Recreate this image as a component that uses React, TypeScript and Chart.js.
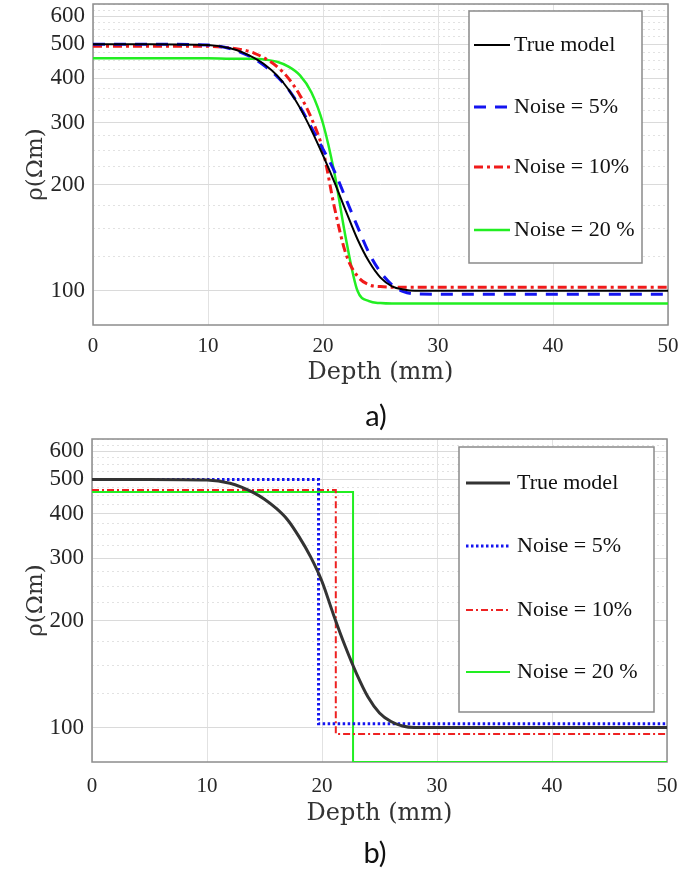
import React, { useEffect, useRef } from 'react';
import { Chart, registerables } from 'chart.js';

Chart.register(...registerables);

// ---------- data ----------
const depthA = [0, 5, 10, 12, 13, 14, 15, 16, 17, 18, 19, 20, 21, 22, 23, 24, 25, 26, 27, 28, 30, 40, 50];
const trueA = [500, 500, 497, 486, 474, 457, 436, 408, 372, 330, 285, 242, 203, 168, 140, 121, 109, 103, 100.8, 100, 100, 100, 100];
const noise5A = [500, 500, 497, 485, 472, 455, 432, 405, 372, 332, 290, 252, 218, 182, 152, 128, 113, 104, 99.5, 98, 97.8, 97.8, 97.8];
const noise10A = [493, 493, 493, 488, 482, 472, 455, 432, 400, 358, 308, 250, 172, 127, 110, 104, 102.8, 102.4, 102.3, 102.3, 102.3, 102.3, 102.3];
const noise20A = [456, 456, 456, 455, 455, 455, 452, 446, 432, 408, 365, 298, 215, 140, 100, 93.5, 92.3, 92, 92, 92, 92, 92, 92];

const depthB = [0, 5, 10, 12, 13, 14, 15, 16, 17, 18, 19, 20, 21, 22, 23, 24, 25, 26, 27, 28, 30, 40, 50];
const trueB = [500, 500, 498, 488, 476, 460, 440, 415, 385, 345, 303, 258, 208, 170, 142, 122, 110, 104, 101, 100, 100, 100, 100];
const stepDepth5B = [0, 19.7, 50];
const step5B = [500, 102.5, 102.5];
const stepDepth10B = [0, 21.2, 50];
const step10B = [467, 96, 96];
const stepDepth20B = [0, 22.7, 50];
const step20B = [461, 80, 80];

const legendLabels = ['True model', 'Noise = 5%', 'Noise = 10%', 'Noise = 20 %'];
const xTicks = [0, 10, 20, 30, 40, 50];
const yMajorTicks = [100, 200, 300, 400, 500, 600];
const yMinorTicks = [125, 150, 175, 225, 250, 275, 325, 350, 375, 425, 450, 475, 525, 550, 575, 625, 650];
const yMin = 80;
const yMax = 650;

const pts = (xs: number[], ys: number[]) => xs.map((x, i) => ({ x, y: ys[i] }));

// ---------- plugin: frame + boxed legend ----------
const frameAndLegend = {
  id: 'frameAndLegend',
  beforeDatasetsDraw(chart: any, _a: any, opts: any) {
    const { ctx, chartArea: a } = chart;
    ctx.save();
    ctx.strokeStyle = opts.frameColor;
    ctx.lineWidth = 1.5;
    ctx.strokeRect(a.left, a.top, a.right - a.left, a.bottom - a.top);
    ctx.restore();
  },
  afterDatasetsDraw(chart: any, _a: any, opts: any) {
    const { ctx, chartArea: a } = chart;
    ctx.save();
    const bx = a.left + opts.boxLeft;
    const by = a.top + opts.boxTop;
    ctx.fillStyle = '#ffffff';
    ctx.fillRect(bx, by, opts.boxWidth, opts.boxHeight);
    ctx.strokeStyle = opts.boxColor;
    ctx.lineWidth = 1.5;
    ctx.strokeRect(bx, by, opts.boxWidth, opts.boxHeight);
    ctx.font = `${opts.fontSize}px "Liberation Serif"`;
    ctx.textBaseline = 'middle';
    ctx.textAlign = 'left';
    chart.data.datasets.forEach((ds: any, i: number) => {
      const y = by + opts.rowOffsets[i];
      ctx.beginPath();
      ctx.setLineDash(ds.borderDash || []);
      ctx.strokeStyle = ds.borderColor;
      ctx.lineWidth = ds.borderWidth;
      ctx.moveTo(bx + opts.lineStart, y);
      ctx.lineTo(bx + opts.lineEnd, y);
      ctx.stroke();
      ctx.setLineDash([]);
      ctx.fillStyle = '#111111';
      ctx.fillText(ds.label, bx + opts.textStart, y);
    });
    ctx.restore();
  },
};

function buildOptions(cfg: any) {
  const tickFont = { family: '"Liberation Serif", serif', size: 21 };
  return {
    responsive: false,
    maintainAspectRatio: false,
    animation: false,
    layout: { padding: { top: cfg.padTop, right: cfg.padRight, left: 0, bottom: 0 } },
    elements: { point: { radius: 0 } },
    plugins: {
      legend: { display: false },
      tooltip: { enabled: false },
      frameAndLegend: cfg.legend,
    },
    scales: {
      x: {
        type: 'linear',
        position: 'bottom',
        min: 0,
        max: 50,
        afterBuildTicks: (s: any) => {
          s.ticks = xTicks.map((v) => ({ value: v }));
        },
        ticks: { padding: cfg.xTickPad, color: '#262626', font: tickFont, maxRotation: 0 },
        grid: { color: '#e2e2e2', lineWidth: 1, drawTicks: false },
        border: { display: false },
        title: {
          display: true,
          text: 'Depth (mm)',
          color: '#333333',
          font: { family: '"DejaVu Serif", serif', size: 24 },
          padding: { top: 0, bottom: cfg.xTitlePad },
        },
        afterFit: (s: any) => {
          s.height = cfg.xHeight;
          s.paddingLeft = 0;
          s.paddingRight = 0;
        },
      },
      y: {
        type: 'logarithmic',
        position: 'left',
        min: yMin,
        max: yMax,
        afterBuildTicks: (s: any) => {
          s.ticks = yMajorTicks.map((v) => ({ value: v }));
        },
        ticks: {
          autoSkip: false,
          padding: 8,
          color: '#262626',
          font: { family: '"Liberation Serif", serif', size: 23 },
          callback: (v: any) => String(v),
        },
        grid: { color: '#dadada', lineWidth: 1, drawTicks: false },
        border: { display: false },
        title: {
          display: true,
          text: 'ρ(Ωm)',
          color: '#333333',
          font: { family: '"DejaVu Serif", serif', size: 23 },
          padding: { top: 22, bottom: 0 },
        },
        afterFit: (s: any) => {
          s.width = cfg.yWidth;
          s.paddingTop = 0;
          s.paddingBottom = 0;
        },
      },
      yMinor: {
        type: 'logarithmic',
        position: 'left',
        min: yMin,
        max: yMax,
        afterBuildTicks: (s: any) => {
          s.ticks = yMinorTicks.map((v) => ({ value: v }));
        },
        ticks: { display: false },
        grid: { color: '#e2e2e2', lineWidth: 1, drawTicks: false },
        border: { display: false, dash: [2, 3] },
        afterFit: (s: any) => {
          s.width = 0;
          s.paddingTop = 0;
          s.paddingBottom = 0;
        },
      },
    },
  };
}

function useChart(ref: React.RefObject<HTMLCanvasElement>, make: () => any) {
  useEffect(() => {
    if (!ref.current) return;
    const chart = new Chart(ref.current, make());
    return () => chart.destroy();
  }, []);
}

export default function App() {
  const refA = useRef<HTMLCanvasElement>(null);
  const refB = useRef<HTMLCanvasElement>(null);

  useChart(refA, () => ({
    type: 'line',
    data: {
      datasets: [
        { label: legendLabels[0], data: pts(depthA, trueA), borderColor: '#000000', borderWidth: 2, cubicInterpolationMode: 'monotone', fill: false },
        { label: legendLabels[1], data: pts(depthA, noise5A), borderColor: '#1414f0', borderWidth: 3, borderDash: [12, 9], cubicInterpolationMode: 'monotone', fill: false },
        { label: legendLabels[2], data: pts(depthA, noise10A), borderColor: '#f01a1a', borderWidth: 3, borderDash: [9, 4, 3, 4], cubicInterpolationMode: 'monotone', fill: false },
        { label: legendLabels[3], data: pts(depthA, noise20A), borderColor: '#22ee22', borderWidth: 2.5, cubicInterpolationMode: 'monotone', fill: false },
      ],
    },
    options: buildOptions({
      padTop: 4,
      padRight: 13,
      yWidth: 93,
      xHeight: 105,
      xTickPad: 9,
      xTitlePad: 43,
      legend: {
        frameColor: '#8c8c8c',
        boxColor: '#8a8a8a',
        boxLeft: 376,
        boxTop: 7,
        boxWidth: 173,
        boxHeight: 252,
        rowOffsets: [34, 96, 156, 219],
        lineStart: 5,
        lineEnd: 41,
        textStart: 45,
        fontSize: 22,
      },
    }),
    plugins: [frameAndLegend],
  }));

  useChart(refB, () => ({
    type: 'line',
    data: {
      datasets: [
        { label: legendLabels[0], data: pts(depthB, trueB), borderColor: '#333333', borderWidth: 3, cubicInterpolationMode: 'monotone', fill: false },
        { label: legendLabels[1], data: pts(stepDepth5B, step5B), borderColor: '#1414f0', borderWidth: 3, borderDash: [2.5, 2.5], stepped: 'before', fill: false },
        { label: legendLabels[2], data: pts(stepDepth10B, step10B), borderColor: '#ee2222', borderWidth: 2, borderDash: [7, 3, 2, 3], stepped: 'before', fill: false },
        { label: legendLabels[3], data: pts(stepDepth20B, step20B), borderColor: '#22ee22', borderWidth: 2, stepped: 'before', fill: false },
      ],
    },
    options: buildOptions({
      padTop: 9,
      padRight: 14,
      yWidth: 92,
      xHeight: 114,
      xTickPad: 12,
      xTitlePad: 48,
      legend: {
        frameColor: '#8c8c8c',
        boxColor: '#8a8a8a',
        boxLeft: 367,
        boxTop: 8,
        boxWidth: 195,
        boxHeight: 265,
        rowOffsets: [36, 99, 163, 225],
        lineStart: 7,
        lineEnd: 51,
        textStart: 58,
        fontSize: 22,
      },
    }),
    plugins: [frameAndLegend],
  }));

  const caption: React.CSSProperties = {
    position: 'absolute',
    width: 100,
    textAlign: 'center',
    fontFamily: 'Lato, "Open Sans", sans-serif',
    fontSize: 29,
    lineHeight: '30px',
    color: '#111',
  };

  return (
    <div style={{ position: 'absolute', left: 0, top: 0, width: 681, height: 876, background: '#fff' }}>
      <canvas ref={refA} width={681} height={430} style={{ position: 'absolute', left: 0, top: 0, display: 'block' }} />
      <canvas ref={refB} width={681} height={446} style={{ position: 'absolute', left: 0, top: 430, display: 'block' }} />
      <div style={{ ...caption, left: 326, top: 400 }}>a)</div>
      <div style={{ ...caption, left: 325, top: 837 }}>b)</div>
    </div>
  );
}
